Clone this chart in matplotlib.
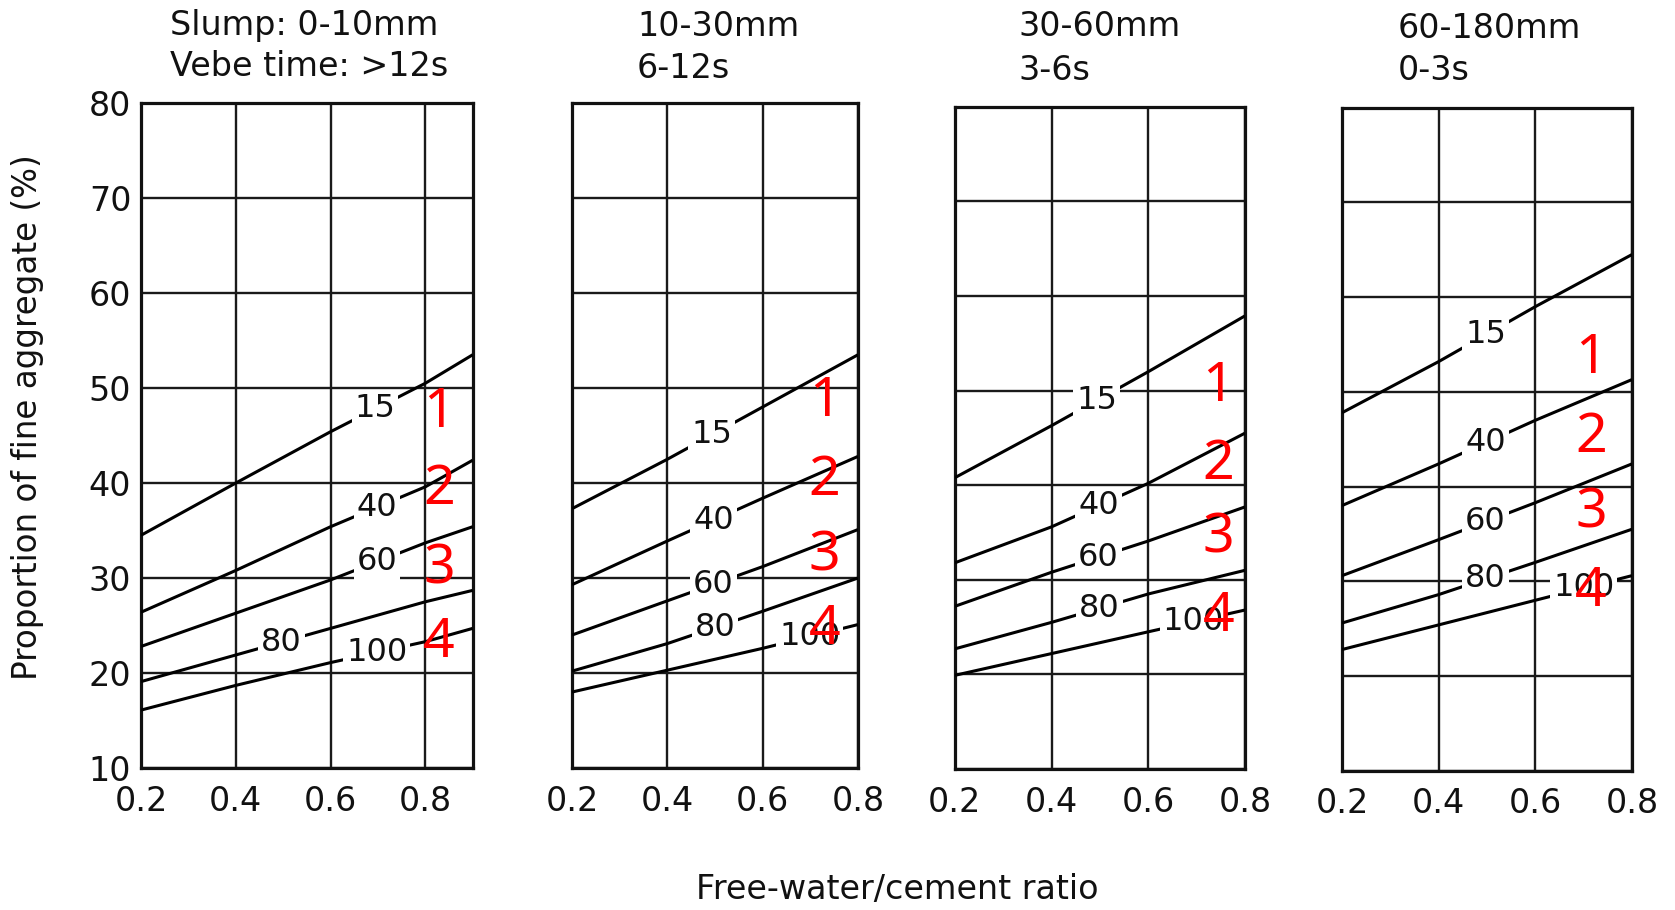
import numpy as np
import matplotlib.pyplot as plt

plt.rcParams['font.family'] = ['DejaVu Sans']

# slump classes (titles)
titles = [("Slump: 0-10mm", "Vebe time: >12s"),
          ("10-30mm", "6-12s"),
          ("30-60mm", "3-6s"),
          ("60-180mm", "0-3s")]

# max aggregate size curves
curve_labels = ["15", "40", "60", "80", "100"]

x_p1 = [0.2, 0.4, 0.6, 0.8, 0.9]
y_p1 = [[34.5, 40.0, 45.4, 50.5, 53.5],
        [26.4, 30.8, 35.4, 39.6, 42.4],
        [22.8, 26.3, 29.8, 33.7, 35.4],
        [19.1, 21.9, 24.7, 27.5, 28.7],
        [16.1, 18.7, 21.1, 23.3, 24.7]]

x_p2 = [0.2, 0.4, 0.6, 0.8]
y_p2 = [[37.3, 42.5, 48.0, 53.5],
        [29.3, 33.9, 38.4, 42.8],
        [24.0, 27.6, 31.2, 35.1],
        [20.2, 23.1, 26.5, 30.0],
        [18.0, 20.3, 22.6, 25.1]]

x_p3 = [0.2, 0.4, 0.6, 0.8]
y_p3 = [[40.8, 46.3, 52.0, 57.9],
        [31.8, 35.6, 40.2, 45.5],
        [27.2, 30.8, 34.1, 37.7],
        [22.7, 25.5, 28.5, 31.0],
        [19.9, 22.2, 24.5, 26.8]]

x_p4 = [0.2, 0.4, 0.6, 0.8]
y_p4 = [[47.8, 53.2, 59.0, 64.5],
        [38.0, 42.4, 47.0, 51.3],
        [30.6, 34.4, 38.3, 42.4],
        [25.6, 28.6, 32.0, 35.5],
        [22.8, 25.4, 28.0, 30.6]]

# where the inline curve labels sit (x), per panel
lab_x = [[0.694, 0.698, 0.698, 0.496, 0.698],
         [0.493, 0.497, 0.497, 0.500, 0.699],
         [0.493, 0.497, 0.497, 0.499, 0.693],
         [0.497, 0.497, 0.497, 0.497, 0.700]]

# red zone numbers
zones = ["1", "2", "3", "4"]
zone_x = [0.829, 0.73, 0.745, 0.715]
zone_y = [[47.4, 39.3, 31.0, 23.2],
          [48.6, 40.3, 32.3, 24.6],
          [50.4, 42.2, 34.4, 26.1],
          [53.5, 45.2, 37.2, 28.9]]

xs = [x_p1, x_p2, x_p3, x_p4]
ys = [y_p1, y_p2, y_p3, y_p4]
xmax = [0.9, 0.8, 0.8, 0.8]

rects = [[0.0842, 0.156, 0.198, 0.7308],
         [0.3415, 0.156, 0.1707, 0.7308],
         [0.5701, 0.155, 0.1731, 0.7275],
         [0.8012, 0.153, 0.1731, 0.7286]]
title_x = [0.1015, 0.3803, 0.6078, 0.8346]
title_y1 = [25, 26, 27, 29]
title_y2 = [66, 68, 71, 71]

fig = plt.figure(figsize=(16.75, 9.10), dpi=100)

for i in range(4):
    ax = fig.add_axes(rects[i])
    ax.set_xlim(0.2, xmax[i])
    ax.set_ylim(10, 80)
    ax.set_xticks([0.2, 0.4, 0.6, 0.8])
    ax.set_xticklabels(["0.2", "0.4", "0.6", "0.8"])
    ax.set_yticks(range(10, 81, 10))
    if i == 0:
        ax.set_yticklabels([str(v) for v in range(10, 81, 10)])
    else:
        ax.set_yticklabels([])
    ax.tick_params(length=0, labelsize=24, colors='#111')
    ax.tick_params(axis='x', pad=12)
    ax.tick_params(axis='y', pad=7)
    ax.grid(True, color='#1a1a1a', lw=1.7)
    ax.set_axisbelow(True)
    for s in ax.spines.values():
        s.set_linewidth(2.3)
        s.set_color('#111')

    for j, lab in enumerate(curve_labels):
        ax.plot(xs[i], ys[i][j], color='black', lw=2.2, zorder=3,
                solid_capstyle='butt')
        lx = lab_x[i][j]
        ly = np.interp(lx, xs[i], ys[i][j])
        ax.text(lx, ly, lab, fontsize=23, ha='center', va='center', zorder=4,
                color='#111',
                bbox=dict(facecolor='white', edgecolor='none', pad=2))

    for k, z in enumerate(zones):
        ax.text(zone_x[i], zone_y[i][k], z, color='red', fontsize=40,
                ha='center', va='center', zorder=6, family='Noto Sans')

    fig.text(title_x[i], 1 - title_y1[i] / 910, titles[i][0], fontsize=24,
             ha='left', va='center', color='#111')
    fig.text(title_x[i], 1 - title_y2[i] / 910, titles[i][1], fontsize=24,
             ha='left', va='center', color='#111')

fig.text(0.0167, 0.542, "Proportion of fine aggregate (%)", rotation=90,
         fontsize=23.5, ha='center', va='center', color='#111')
fig.text(0.536, 0.022, "Free-water/cement ratio", fontsize=24,
         ha='center', va='center', color='#111')

fig.savefig("out.png", dpi=100)
